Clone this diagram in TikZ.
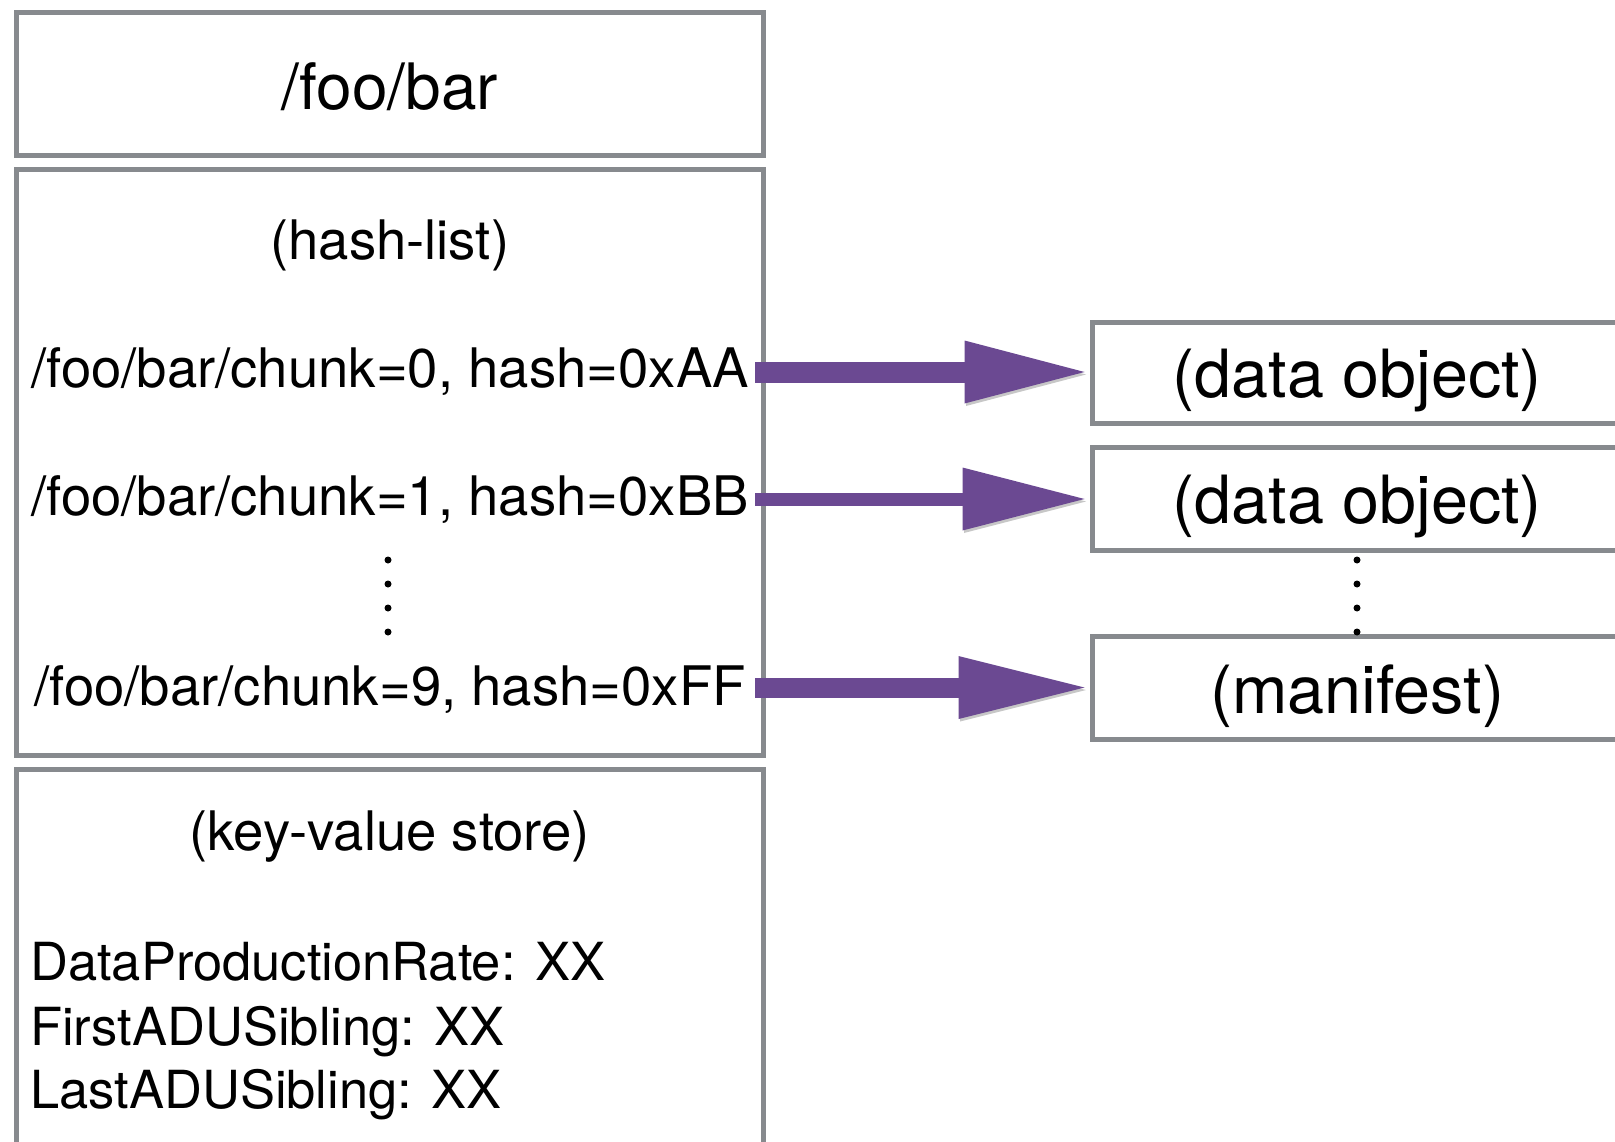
\documentclass[tikz,border=0pt]{standalone}
\usepackage{fontspec}
\setmainfont{TeX Gyre Heros}
\usetikzlibrary{arrows.meta}
\definecolor{boxgray}{HTML}{878A8E}
\definecolor{arrowpurple}{HTML}{6B4992}
\newcommand\txtnormal{\fontsize{54.5}{64}\selectfont}
\newcommand\txtkv{\fontsize{52.5}{62}\selectfont}
\newcommand\txtlarge{\fontsize{66.5}{78}\selectfont}
\newcommand\txttitle{\fontsize{64}{76}\selectfont}

\begin{document}
\begin{tikzpicture}[x=1pt,y=-1pt,
  panel/.style={draw=boxgray, line width=5pt, fill=white, inner sep=0pt, rectangle},
  txt/.style={inner sep=0pt, anchor=base, font=\txtnormal},
  objtxt/.style={inner sep=0pt, font=\txtlarge},
  ellipsisdot/.style={circle, fill=black, inner sep=0pt, minimum size=7pt},
  link/.style 2 args={line width=#1, draw=arrowpurple,
    -{Triangle[length=#2, width=63pt, line width=0pt]},
    preaction={draw=black, opacity=0.22,
      transform canvas={xshift=1.5pt, yshift=-2.5pt}}}
]
% page
\fill[white] (0,0) rectangle (1615,1142);
\useasboundingbox (0,0) rectangle (1615,1142);
\clip (0,0) rectangle (1615,1142);

% left column: name, hash-list, key-value store
\node[panel, minimum width=746.5pt, minimum height=143pt]   (title)    at (389.75,84)     {};
\node[panel, minimum width=746.5pt, minimum height=586pt]   (hashlist) at (389.75,462.5)  {};
\node[panel, minimum width=746.5pt, minimum height=390.5pt] (kvstore)  at (389.75,964.75) {};

\node[txt, font=\txttitle] (name) at (389.75,110) {/foo/bar};
\node[txt] (hlhead) at (389.75,259) {(hash-list)};
\node[txt] (c0) at (390,387) {/foo/bar/chunk=0, hash=0xAA};
\node[txt] (c1) at (390,515) {/foo/bar/chunk=1, hash=0xBB};
\node[txt] (c9) at (390,705) {/foo/bar/chunk=9, hash=0xFF};

\node[txt] (kvhead) at (389.75,850) {(key-value store)};
\node[txt, font=\txtkv, anchor=base west] (kv1) at (30,980)  {DataProductionRate: XX};
\node[txt, font=\txtkv, anchor=base west] (kv2) at (30,1045) {FirstADUSibling: XX};
\node[txt, font=\txtkv, anchor=base west] (kv3) at (30,1108) {LastADUSibling: XX};

% right column: named objects
\node[panel, minimum width=529.5pt, minimum height=100.5pt] (obj0) at (1357.25,372.75) {};
\node[panel, minimum width=529.5pt, minimum height=103pt]   (obj1) at (1357.25,499)    {};
\node[panel, minimum width=529.5pt, minimum height=103pt]   (mani) at (1357.25,688)    {};
\node[objtxt] (obj0txt) at (1357.25,380.5) {(data object)};
\node[objtxt] (obj1txt) at (1357.25,507)   {(data object)};
\node[objtxt] (manitxt) at (1357.25,696)   {(manifest)};

% vertical ellipses
\foreach \yy [count=\i] in {560,584,608,632} {
  \node[ellipsisdot] (ld\i) at (388,\yy) {};
  \node[ellipsisdot] (rd\i) at (1357,\yy) {};
}

% pointers from hash-list entries to objects
\coordinate (s0) at (755,372);
\coordinate (s1) at (755,499);
\coordinate (s9) at (755,687.5);
\coordinate (e0) at ([xshift=-5.5pt]obj0.west);
\coordinate (e1) at ([xshift=-5.5pt]obj1.west);
\coordinate (e9) at ([xshift=-5.5pt]mani.west);
\draw[link={21pt}{120pt}] (s0) -- (s0 -| e0);
\draw[link={13pt}{122pt}] (s1) -- (s1 -| e1);
\draw[link={20pt}{126pt}] (s9) -- (s9 -| e9);
\end{tikzpicture}
\end{document}
